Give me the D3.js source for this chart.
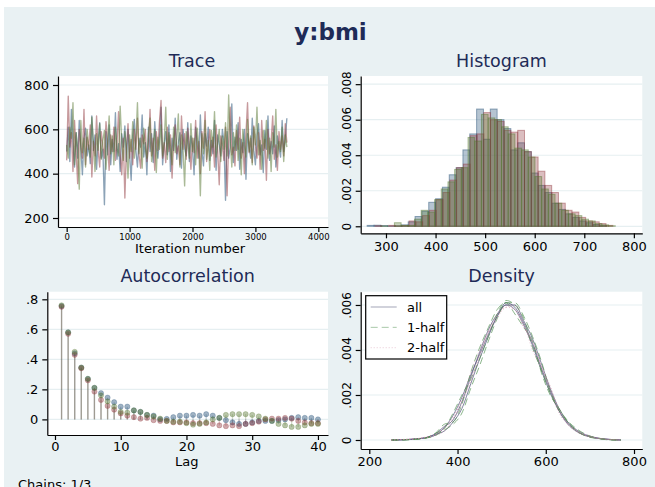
<!DOCTYPE html>
<html>
<head>
<meta charset="utf-8">
<script src="https://cdn.jsdelivr.net/npm/d3@7"></script>
<style>
  body { margin: 0; background: #fff; }
  svg { display: block; font-family: "DejaVu Sans", sans-serif; }
</style>
</head>
<body>
<script>
// ---- data ----
var chainColors = ["#1a476f", "#90353b", "#55752f"];
var traceLastIter = 3500;

var traceChain1 = [
  500, 610, 455, 690, 540, 430, 585, 470, 640, 515, 395, 560, 605, 480, 530, 445, 660, 505, 575, 420,
  545, 630, 470, 510, 260, 590, 485, 620, 440, 555, 500, 675, 465, 535, 410, 580, 520, 615, 455, 600,
  490, 370, 570, 645, 505, 430, 560, 520, 665, 475, 540, 395, 610, 500, 580, 450, 635, 515, 470, 555,
  700, 440, 530, 590, 485, 620, 410, 560, 505, 650, 465, 540, 585, 425, 600, 515, 480, 630, 455, 570,
  520, 395, 610, 545, 470, 665, 500, 435, 580, 525, 610, 460, 550, 490, 640, 415, 575, 530, 480, 600,
  545, 280, 590, 470, 520, 715, 450, 565, 505, 630, 420, 555, 495, 600, 375, 580, 520, 470, 650, 505,
  440, 570, 625, 485, 530, 405, 595, 510, 660, 460, 545, 490, 615, 430, 570, 520, 475, 640, 500, 555, 650
];
var traceChain2 = [
  460, 750, 520, 585, 410, 640, 495, 355, 600, 530, 470, 690, 440, 565, 510, 620, 385, 545, 480, 660,
  505, 430, 590, 525, 470, 635, 545, 415, 575, 500, 610, 460, 540, 680, 490, 395, 560, 290, 520, 625,
  470, 555, 440, 600, 510, 650, 485, 425, 575, 535, 600, 455, 520, 690, 480, 560, 415, 590, 505, 635,
  730, 470, 540, 450, 610, 500, 575, 380, 545, 620, 490, 525, 440, 660, 510, 580, 465, 605, 530, 420,
  560, 495, 640, 470, 545, 400, 590, 515, 680, 455, 535, 600, 480, 565, 430, 620, 505, 350, 570, 525,
  460, 610, 300, 545, 700, 485, 520, 435, 595, 510, 655, 470, 540, 400, 580, 720, 495, 560, 450, 615,
  530, 470, 585, 420, 640, 505, 555, 370, 600, 490, 545, 660, 465, 530, 415, 590, 510, 570, 480, 625, 540
];
var traceChain3 = [
  530, 470, 610, 560, 720, 440, 585, 505, 330, 640, 495, 560, 430, 600, 525, 475, 655, 540, 410, 580,
  505, 625, 465, 550, 595, 420, 535, 660, 490, 570, 440, 610, 515, 480, 705, 545, 460, 590, 520, 380,
  575, 500, 635, 470, 545, 720, 490, 560, 425, 605, 515, 470, 580, 650, 455, 530, 600, 405, 565, 510,
  620, 480, 545, 700, 465, 585, 520, 440, 610, 495, 555, 670, 430, 575, 510, 345, 590, 535, 470, 625,
  500, 560, 440, 605, 525, 300, 580, 490, 640, 465, 550, 415, 595, 520, 680, 475, 540, 600, 455, 570,
  510, 630, 480, 755, 545, 430, 585, 505, 620, 460, 560, 395, 600, 525, 475, 645, 500, 570, 440, 610,
  530, 700, 485, 550, 420, 595, 515, 640, 470, 560, 410, 585, 520, 690, 475, 545, 500, 610, 455, 575, 520
];

// histogram: first bin edge and bin width per chain, then bin heights
var histStart = [262, 278, 290];
var histWidth = [13.8, 13.7, 13.5];
var histChain1 = [.00005, .00006, .00004, .00002, .00003, .00008, .00025, .00055, .00085, .00135, .00155, .0022,
  .0029, .0033, .0043, .0052, .0066, .0049, .0066, .0060, .0055, .0043, .0047, .0042, .0030, .0023, .0019, .0013,
  .00095, .0007, .0005, .0003, .0002, .0001, .00004];
var histChain2 = [.00003, 0, .00005, .00002, .00004, .0003, .00025, .0006, .0009, .0015, .0019, .0026,
  .0033, .0035, .0051, .0052, .0064, .0060, .0059, .0054, .0053, .0054, .0042, .0039, .0031, .0023, .0019, .0013,
  .0009, .0008, .0005, .0003, .00025, .00015, .00005];
var histChain3 = [.00002, 0, .0002, .00005, .00005, .0004, .0009, .0008, .0015, .0021, .0025, .0032,
  .0033, .0050, .0048, .0063, .0061, .0060, .0056, .0052, .0044, .0043, .0039, .0028, .0021, .0018, .0013, .0009,
  .0007, .0006, .0004, .0003, .00015, .00008, .00003];

// autocorrelation, lags 1..40
var acLags = d3.range(1, 41);
var acChain1 = [.755, .58, .44, .345, .27, .21, .175, .145, .115, .085, .085, .06, .05, .03, .025, .0, .003, .015,
  .025, .025, .03, .025, .035, .025, .01, -.005, -.02, -.03, -.03, -.02, -.01, -.01, -.01, -.005, .0, .01, .015,
  .01, .01, .0];
var acChain2 = [.75, .57, .43, .34, .26, .185, .13, .09, .065, .04, .025, .015, .005, .01, -.005, -.01, -.01, -.02,
  -.02, -.02, -.025, -.025, -.025, -.03, -.04, -.045, -.04, -.045, -.03, -.025, -.015, .0, .005, .005, .01, .005,
  -.01, -.02, -.025, -.025];
var acChain3 = [.76, .58, .45, .345, .27, .21, .16, .12, .085, .05, .045, .06, .05, .03, .02, .005, -.01, -.015,
  -.015, -.025, -.035, -.03, -.02, .0, .01, .03, .035, .035, .035, .03, .02, .005, -.01, -.03, -.04, -.05, -.05,
  -.04, -.03, -.03];

// kernel densities on a common grid
var densX = [250, 270, 290, 310, 330, 350, 370, 390, 410, 430, 450, 470, 490, 510, 530, 550, 570, 590, 610, 630,
  650, 670, 690, 710, 730, 750, 770];
var densAll = [
  [0, .00001, .00003, .00006, .00012, .00028, .0006, .0009, .0017, .0028, .0039, .0049, .0056, .0060, .0058, .0051, .0042, .0031, .0021, .0013, .00075, .0004, .0002, .0001, .00004, .00001, 0],
  [0, 0, .00002, .00005, .0001, .00022, .00055, .0011, .0019, .0029, .0038, .0047, .0055, .0061, .0059, .0052, .0043, .0032, .0022, .0013, .0007, .00038, .0002, .0001, .00005, .00002, 0],
  [0, .00001, .00002, .00005, .00011, .00025, .0004, .0008, .0014, .0025, .0036, .0046, .0055, .0060, .0060, .0053, .0045, .0034, .0023, .0014, .0008, .00045, .00024, .00012, .00005, .00002, 0]
];
var densHalf1 = [
  [0, .00001, .00002, .00005, .0001, .0003, .0007, .0008, .0016, .0030, .0041, .0050, .0058, .0061, .0056, .0050, .0044, .0030, .0020, .0014, .0008, .0004, .00018, .00008, .00003, 0, 0],
  [0, 0, .00001, .00004, .00009, .0002, .0005, .0012, .0020, .0027, .0036, .0046, .0056, .0062, .0060, .0054, .0041, .0031, .0021, .0013, .0008, .0004, .0002, .0001, .00004, .00001, 0],
  [0, 0, .00002, .00004, .0001, .0003, .00045, .0007, .0012, .0023, .0033, .0044, .0054, .0061, .0061, .0055, .0046, .0035, .0022, .0014, .00085, .0005, .00026, .00012, .00005, .00001, 0]
];
var densHalf2 = [
  [0, .00002, .00004, .00007, .00014, .00026, .0005, .001, .0018, .0026, .0037, .0048, .0055, .0059, .006, .0052, .0040, .0032, .0022, .0012, .0007, .00042, .00022, .00011, .00005, .00002, 0],
  [0, .00001, .00003, .00006, .00011, .00024, .0006, .001, .0018, .003, .0040, .0048, .0054, .0060, .0058, .0050, .0044, .0033, .0023, .0013, .0007, .00036, .0002, .0001, .00005, .00002, 0],
  [0, .00001, .00003, .00006, .00012, .0002, .0004, .0009, .0016, .0027, .0038, .0048, .0056, .0059, .0058, .0051, .0043, .0033, .0024, .0014, .00075, .0004, .00022, .00011, .00004, .00001, 0]
];
var densLegend = ["all", "1-half", "2-half"];

var traceYTicks = [200, 400, 600, 800], traceXTicks = [0, 1000, 2000, 3000, 4000];
var histYTicks = [0, .002, .004, .006, .008], histXTicks = [300, 400, 500, 600, 700, 800];
var acYTicks = [0, .2, .4, .6, .8], acXTicks = [0, 10, 20, 30, 40];
var densYTicks = [0, .002, .004, .006], densXTicks = [200, 400, 600, 800];

// ---- drawing ----
var W = 655, H = 487;
var titleColor = "#1e2b57", gridColor = "#e6eff1";
var svg = d3.select("body").append("svg").attr("width", W).attr("height", H);

svg.append("rect").attr("x", 4).attr("y", 7).attr("width", W - 4).attr("height", H - 7).attr("fill", "#e9f1f3");

svg.append("text").attr("x", 330.5).attr("y", 40).attr("text-anchor", "middle")
  .attr("font-size", 23).attr("font-weight", "bold").attr("fill", titleColor).text("y:bmi");

svg.append("text").attr("x", 18).attr("y", 489).attr("font-size", 13).attr("fill", "#000").text("Chains: 1/3");

function dotFmt(d) { return d === 0 ? "0" : d3.format(".3f")(d).replace(/^0/, ""); }
function dotFmt1(d) { return d === 0 ? "0" : d3.format(".1f")(d).replace(/^0/, ""); }

function panel(box, title, titleY) {
  svg.append("rect").attr("x", box.l).attr("y", box.t).attr("width", box.r - box.l).attr("height", box.b - box.t)
    .attr("fill", "#fff");
  svg.append("text").attr("x", (box.l + box.r) / 2 + box.titleDx).attr("y", titleY).attr("text-anchor", "middle")
    .attr("font-size", 17.5).attr("fill", titleColor).text(title);
}

function grid(y, ticks, box) {
  svg.append("g").selectAll("line").data(ticks).enter().append("line")
    .attr("x1", box.l).attr("x2", box.r).attr("y1", function(d) { return y(d); }).attr("y2", function(d) { return y(d); })
    .attr("stroke", gridColor).attr("stroke-width", 1.2);
}

function styleAxis(g, fs) {
  g.attr("font-family", "DejaVu Sans, sans-serif");
  g.select(".domain").attr("stroke", "#000").attr("stroke-width", 1.2);
  g.selectAll(".tick line").attr("stroke", "#000").attr("stroke-width", 1.2);
  g.selectAll(".tick text").attr("fill", "#000").attr("font-size", fs);
}

function axes(box, x, y, xt, yt, opt) {
  var gx = svg.append("g").attr("transform", "translate(0," + box.b + ")")
    .call(d3.axisBottom(x).tickValues(xt).tickSize(5).tickSizeOuter(0).tickPadding(opt.xPad).tickFormat(opt.xFmt || d3.format("d")));
  styleAxis(gx, opt.xFs);
  var gy = svg.append("g").attr("transform", "translate(" + box.l + ",0)")
    .call(d3.axisLeft(y).tickValues(yt).tickSize(5).tickSizeOuter(0).tickPadding(opt.yPad || 4).tickFormat(opt.yFmt || d3.format("d")));
  styleAxis(gy, opt.yFs);
  if (opt.rotateY) {
    gy.selectAll(".tick text").attr("transform", "rotate(-90)").attr("x", 0).attr("y", -10)
      .attr("dy", 0).attr("text-anchor", "middle");
  }
}

// Trace
(function() {
  var box = {l: 58, r: 328, t: 76, b: 227, titleDx: -1};
  panel(box, "Trace", 67);
  var x = d3.scaleLinear().domain([-138, 4154]).range([box.l, box.r]);
  var y = d3.scaleLinear().domain([159.4, 840.6]).range([box.b, box.t]);
  grid(y, traceYTicks, box);
  [traceChain1, traceChain2, traceChain3].forEach(function(vals, c) {
    var step = traceLastIter / (vals.length - 1);
    var line = d3.line().x(function(d, i) { return x(i * step); }).y(function(d) { return y(d); });
    svg.append("path").datum(vals).attr("d", line).attr("fill", "none")
      .attr("stroke", chainColors[c]).attr("stroke-opacity", 0.5).attr("stroke-width", 1.35)
      .attr("stroke-linejoin", "round");
  });
  axes(box, x, y, traceXTicks, traceYTicks, {xFs: 8.5, xPad: 2, yFs: 13, yPad: 4});
  svg.append("text").attr("x", 190).attr("y", 252.5).attr("text-anchor", "middle").attr("font-size", 13)
    .text("Iteration number");
})();

// Histogram
(function() {
  var box = {l: 360.7, r: 642.3, t: 76, b: 233.3, titleDx: 0};
  panel(box, "Histogram", 67);
  var x = d3.scaleLinear().domain([249, 817]).range([box.l, box.r]);
  var y = d3.scaleLinear().domain([-0.000395, 0.00846]).range([box.b, box.t]);
  grid(y, histYTicks, box);
  [histChain1, histChain2, histChain3].forEach(function(vals, c) {
    svg.append("g").selectAll("rect").data(vals).enter().append("rect")
      .attr("x", function(d, i) { return x(histStart[c] + i * histWidth[c]); })
      .attr("width", function() { return x(histWidth[c]) - x(0); })
      .attr("y", function(d) { return y(d); })
      .attr("height", function(d) { return y(0) - y(d); })
      .attr("fill", chainColors[c]).attr("fill-opacity", 0.32)
      .attr("stroke", chainColors[c]).attr("stroke-opacity", 0.45).attr("stroke-width", 1);
  });
  axes(box, x, y, histXTicks, histYTicks, {xFs: 13, xPad: 3, yFs: 12, yFmt: dotFmt, rotateY: true});
})();

// Autocorrelation
(function() {
  var box = {l: 47.3, r: 328, t: 291.7, b: 435, titleDx: 0};
  panel(box, "Autocorrelation", 281.7);
  var x = d3.scaleLinear().domain([-1.17, 41.53]).range([box.l, box.r]);
  var y = d3.scaleLinear().domain([-0.104, 0.8507]).range([box.b, box.t]);
  grid(y, acYTicks, box);
  var chains = [acChain1, acChain2, acChain3];
  chains.forEach(function(vals, c) {
    svg.append("g").selectAll("line").data(vals).enter().append("line")
      .attr("x1", function(d, i) { return x(acLags[i]); }).attr("x2", function(d, i) { return x(acLags[i]); })
      .attr("y1", y(0)).attr("y2", function(d) { return y(d); })
      .attr("stroke", chainColors[c]).attr("stroke-opacity", 0.25).attr("stroke-width", 1.3);
  });
  chains.forEach(function(vals, c) {
    svg.append("g").selectAll("circle").data(vals).enter().append("circle")
      .attr("cx", function(d, i) { return x(acLags[i]); }).attr("cy", function(d) { return y(d); }).attr("r", 2.6)
      .attr("fill", chainColors[c]).attr("fill-opacity", 0.42)
      .attr("stroke", chainColors[c]).attr("stroke-opacity", 0.3).attr("stroke-width", 0.8);
  });
  axes(box, x, y, acXTicks, acYTicks, {xFs: 13, xPad: 2, yFs: 13, yPad: 4, yFmt: dotFmt1});
  svg.append("text").attr("x", 186.7).attr("y", 466).attr("text-anchor", "middle").attr("font-size", 13).text("Lag");
})();

// Density
(function() {
  var box = {l: 360.7, r: 642.3, t: 291.7, b: 449, titleDx: 0};
  panel(box, "Density", 281.7);
  var x = d3.scaleLinear().domain([180.5, 818.8]).range([box.l, box.r]);
  var y = d3.scaleLinear().domain([-0.0004, 0.00659]).range([box.b, box.t]);
  grid(y, densYTicks, box);
  var styles = [
    {color: "#4f5478", dash: null, op: 0.7},
    {color: "#4e8f4e", dash: "7,4", op: 0.65},
    {color: "#d08aa5", dash: "1,2", op: 0.6}
  ];
  var line = d3.line().x(function(d, i) { return x(densX[i]); }).y(function(d) { return y(d); })
    .curve(d3.curveMonotoneX);
  [densAll, densHalf1, densHalf2].forEach(function(set, k) {
    set.forEach(function(vals) {
      svg.append("path").datum(vals).attr("d", line).attr("fill", "none")
        .attr("stroke", styles[k].color).attr("stroke-opacity", styles[k].op).attr("stroke-width", 1)
        .attr("stroke-dasharray", styles[k].dash);
    });
  });
  axes(box, x, y, densXTicks, densYTicks, {xFs: 13, xPad: 3, yFs: 12, yFmt: dotFmt, rotateY: true});

  var lg = svg.append("g");
  lg.append("rect").attr("x", 365.7).attr("y", 295.7).attr("width", 81).attr("height", 63.3)
    .attr("fill", "#fff").attr("stroke", "#000").attr("stroke-width", 1.2);
  var rowY = d3.scalePoint().domain(densLegend).range([307, 347.7]);
  densLegend.forEach(function(name, k) {
    lg.append("line").attr("x1", 370.7).attr("x2", 396.7).attr("y1", rowY(name)).attr("y2", rowY(name))
      .attr("stroke", styles[k].color).attr("stroke-opacity", styles[k].op * 0.75).attr("stroke-width", 1)
      .attr("stroke-dasharray", styles[k].dash);
    lg.append("text").attr("x", 407).attr("y", rowY(name) + 4.6).attr("font-size", 13).attr("fill", "#000").text(name);
  });
})();
</script>
</body>
</html>
